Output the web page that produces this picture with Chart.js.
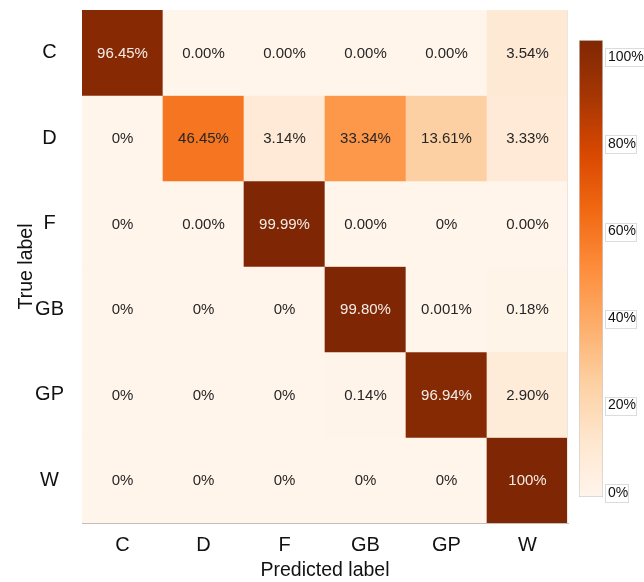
<!DOCTYPE html>
<html>
<head>
<meta charset="utf-8">
<script src="https://cdn.jsdelivr.net/npm/chart.js@4.4.0/dist/chart.umd.min.js"></script>
<style>
  body { margin: 0; background: #fff; }
  #wrap { position: relative; width: 644px; height: 582px; }
  #heat { position: absolute; left: 0; top: 0; }
  #cbar { position: absolute; left: 560px; top: 0; }
</style>
</head>
<body>
<div id="wrap">
  <canvas id="heat" width="575" height="582"></canvas>
  <canvas id="cbar" width="84" height="582"></canvas>
</div>
<script>
// etiket kelas
const trueLabels = ['C', 'D', 'F', 'GB', 'GP', 'W'];
const predLabels = ['C', 'D', 'F', 'GB', 'GP', 'W'];

// nilai persen per baris (true label)
const rowC  = [96.45, 0.00, 0.00, 0.00, 0.00, 3.54];
const rowD  = [0, 46.45, 3.14, 33.34, 13.61, 3.33];
const rowF  = [0, 0.00, 99.99, 0.00, 0, 0.00];
const rowGB = [0, 0, 0, 99.80, 0.001, 0.18];
const rowGP = [0, 0, 0, 0.14, 96.94, 2.90];
const rowW  = [0, 0, 0, 0, 0, 100];
const values = [rowC, rowD, rowF, rowGB, rowGP, rowW];

// teks yang tertulis di tiap sel
const cellText = [
  ['96.45%', '0.00%', '0.00%', '0.00%', '0.00%', '3.54%'],
  ['0%', '46.45%', '3.14%', '33.34%', '13.61%', '3.33%'],
  ['0%', '0.00%', '99.99%', '0.00%', '0%', '0.00%'],
  ['0%', '0%', '0%', '99.80%', '0.001%', '0.18%'],
  ['0%', '0%', '0%', '0.14%', '96.94%', '2.90%'],
  ['0%', '0%', '0%', '0%', '0%', '100%']
];

// colorbar
const cbMin = -1;
const cbMax = 104;
const cbTicks = [0, 20, 40, 60, 80, 100];

// colormap Oranges
const orangeStops = ['#fff5eb', '#fee6ce', '#fdd0a2', '#fdae6b', '#fd8d3c', '#f16913', '#d94801', '#a63603', '#7f2704'];

function hexToRgb(h) {
  return [parseInt(h.slice(1, 3), 16), parseInt(h.slice(3, 5), 16), parseInt(h.slice(5, 7), 16)];
}

function oranges(t) {
  t = Math.max(0, Math.min(1, t));
  const pos = t * (orangeStops.length - 1);
  const i = Math.min(Math.floor(pos), orangeStops.length - 2);
  const f = pos - i;
  const a = hexToRgb(orangeStops[i]);
  const b = hexToRgb(orangeStops[i + 1]);
  const c = a.map((v, k) => Math.round(v + (b[k] - v) * f));
  return `rgb(${c[0]}, ${c[1]}, ${c[2]})`;
}

function cellColor(v) {
  return oranges(Math.pow(v / 100, 0.7));
}

const FONT = "'Liberation Sans', Arial, sans-serif";

// plugin untuk menulis persen di tengah sel
const cellTextPlugin = {
  id: 'cellText',
  afterDatasetsDraw(chart) {
    const ctx = chart.ctx;
    ctx.save();
    ctx.font = `15px ${FONT}`;
    ctx.textAlign = 'center';
    ctx.textBaseline = 'middle';
    chart.data.datasets.forEach((ds, r) => {
      const meta = chart.getDatasetMeta(r);
      meta.data.forEach((bar, c) => {
        const p = bar.getCenterPoint();
        ctx.fillStyle = values[r][c] > 60 ? '#f4ece8' : '#262626';
        ctx.fillText(cellText[r][c], p.x, p.y + 1);
      });
    });
    // garis tipis di sisi kanan
    const a = chart.chartArea;
    ctx.strokeStyle = '#ece6e2';
    ctx.lineWidth = 1;
    ctx.beginPath();
    ctx.moveTo(a.right - 0.5, a.top);
    ctx.lineTo(a.right - 0.5, a.bottom);
    ctx.stroke();
    ctx.restore();
  }
};

const heatChart = new Chart(document.getElementById('heat'), {
  type: 'bar',
  data: {
    labels: predLabels,
    datasets: trueLabels.map((lab, r) => ({
      label: lab,
      data: predLabels.map(() => 1),
      backgroundColor: values[r].map(cellColor),
      borderWidth: 0,
      barPercentage: 1,
      categoryPercentage: 1,
      stack: 'cm'
    }))
  },
  options: {
    responsive: false,
    animation: false,
    layout: { padding: { left: 0, right: 7, top: 10, bottom: 0 } },
    plugins: { legend: { display: false }, tooltip: { enabled: false } },
    scales: {
      x: {
        type: 'category',
        stacked: true,
        grid: { display: false, drawTicks: false },
        border: { display: true, color: '#c4bdb8' },
        ticks: { color: '#111', font: { family: FONT, size: 20 }, padding: 10 },
        title: { display: true, text: 'Predicted label', color: '#111', font: { family: FONT, size: 19.5 }, padding: { top: 0, bottom: 0 } },
        afterFit(scale) { scale.height = 59; scale.paddingLeft = 0; scale.paddingRight = 0; }
      },
      y: {
        type: 'linear',
        stacked: true,
        min: 0,
        max: trueLabels.length,
        reverse: true,
        grid: { display: false, drawTicks: false },
        border: { display: true, color: '#c4bdb8' },
        afterBuildTicks(scale) {
          scale.ticks = trueLabels.map((_, i) => ({ value: i + 0.5 }));
        },
        ticks: {
          color: '#111',
          font: { family: FONT, size: 20 },
          crossAlign: 'center',
          padding: 18,
          callback: (v, i) => trueLabels[i]
        },
        title: { display: true, text: 'True label', color: '#111', font: { family: FONT, size: 19.5 }, padding: { top: 15, bottom: 0 } },
        afterFit(scale) { scale.width = 82; scale.paddingTop = 0; scale.paddingBottom = 0; }
      }
    }
  },
  plugins: [cellTextPlugin]
});

// plugin kotak tipis di sekitar label colorbar
const tickBoxPlugin = {
  id: 'tickBox',
  afterDraw(chart) {
    const ctx = chart.ctx;
    const sc = chart.scales.y;
    ctx.save();
    ctx.font = `14px ${FONT}`;
    ctx.strokeStyle = '#dcdcdc';
    ctx.lineWidth = 1;
    sc.ticks.forEach((t, i) => {
      const y = sc.getPixelForTick(i);
      const w = ctx.measureText(t.label).width;
      ctx.strokeRect(Math.round(sc.left + 4) - 1.5, Math.round(y - 9) + 0.5, Math.round(w) + 3, 18);
    });
    ctx.restore();
  }
};

const cbChart = new Chart(document.getElementById('cbar'), {
  type: 'bar',
  data: {
    labels: ['cb'],
    datasets: [{
      data: [[cbMin, cbMax]],
      backgroundColor(context) {
        const area = context.chart.chartArea;
        if (!area) return '#fdae6b';
        const g = context.chart.ctx.createLinearGradient(0, area.bottom, 0, area.top);
        orangeStops.forEach((c, i) => g.addColorStop(i / (orangeStops.length - 1), c));
        return g;
      },
      borderColor: '#cfcfcf',
      borderWidth: 1,
      borderSkipped: false,
      barPercentage: 1,
      categoryPercentage: 1
    }]
  },
  options: {
    responsive: false,
    animation: false,
    layout: { padding: { left: 19, right: 0, top: 40, bottom: 85 } },
    plugins: { legend: { display: false }, tooltip: { enabled: false } },
    scales: {
      x: { display: false },
      y: {
        position: 'right',
        min: cbMin,
        max: cbMax,
        grid: { display: false, drawTicks: false },
        border: { display: false },
        afterBuildTicks(scale) {
          scale.ticks = cbTicks.map(v => ({ value: v }));
        },
        ticks: {
          color: '#111',
          font: { family: FONT, size: 14 },
          padding: 5,
          callback: v => v + '%'
        },
        afterFit(scale) { scale.width = 41; scale.paddingTop = 0; scale.paddingBottom = 0; }
      }
    }
  },
  plugins: [tickBoxPlugin]
});
</script>
</body>
</html>
